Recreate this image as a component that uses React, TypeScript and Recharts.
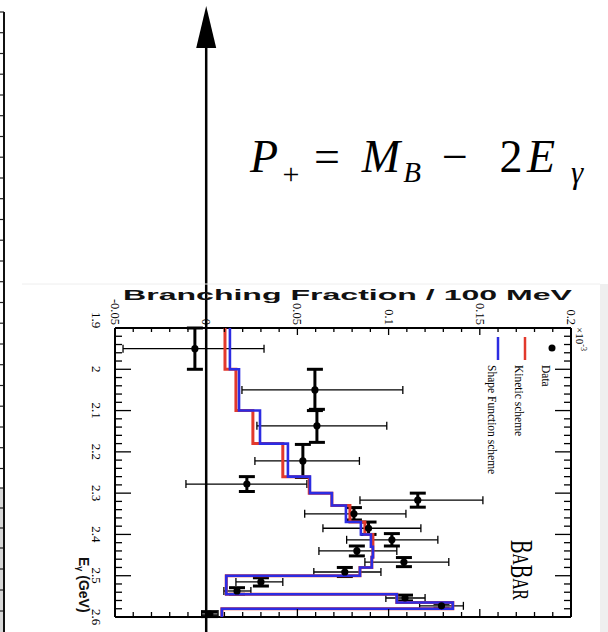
import React from 'react';
import { ComposedChart, Scatter, XAxis, YAxis, ErrorBar, ReferenceLine, Label, Legend } from 'recharts';

// histogram bin edges along E_gamma (GeV)
const binEdges = [1.9, 2.0, 2.1, 2.18, 2.26, 2.3, 2.33, 2.37, 2.4, 2.43, 2.455, 2.48, 2.5, 2.545, 2.565, 2.58, 2.6];
const shapeFunction = [0.013, 0.018, 0.0295, 0.0448, 0.0569, 0.0689, 0.0766, 0.0848, 0.0903, 0.0914, 0.0908, 0.0843, 0.011, 0.1045, 0.1352, 0.0086];
const kinetic = [0.0103, 0.0163, 0.0256, 0.042, 0.0565, 0.0689, 0.0788, 0.087, 0.0914, 0.0914, 0.0908, 0.0843, 0.011, 0.1045, 0.1352, 0.0086];

// measured points (branching fraction x1e-3 per 100 MeV)
const dataE = [1.95, 2.05, 2.137, 2.222, 2.278, 2.317, 2.35, 2.385, 2.413, 2.44, 2.467, 2.491, 2.515, 2.537, 2.554, 2.573, 2.593];
const dataEHalf = [0.05, 0.05, 0.04, 0.04, 0.018, 0.017, 0.015, 0.015, 0.015, 0.012, 0.011, 0.011, 0.01, 0.008, 0.007, 0.006, 0.006];
const dataBF = [-0.0062, 0.0596, 0.0607, 0.053, 0.0223, 0.116, 0.081, 0.089, 0.1018, 0.0826, 0.1084, 0.076, 0.03, 0.0169, 0.109, 0.129, 0.002];
const bfErrLow = [0.0394, 0.04, 0.0329, 0.0263, 0.0334, 0.0317, 0.027, 0.025, 0.0248, 0.0208, 0.0214, 0.017, 0.0137, 0.0072, 0.0105, 0.012, 0.0045];
const bfErrHigh = [0.0379, 0.0482, 0.0383, 0.031, 0.0329, 0.0357, 0.0285, 0.0287, 0.0252, 0.0219, 0.0246, 0.0198, 0.012, 0.0076, 0.011, 0.012, 0.0045];

// axis ticks
const bfTicks = [-0.05, -0.04, -0.03, -0.02, -0.01, 0, 0.01, 0.02, 0.03, 0.04, 0.05, 0.06, 0.07, 0.08, 0.09, 0.1,
  0.11, 0.12, 0.13, 0.14, 0.15, 0.16, 0.17, 0.18, 0.19, 0.2];
const bfMajor = [-0.05, 0, 0.05, 0.1, 0.15, 0.2];
const bfLabels = ['-0.05', '0', '0.05', '0.1', '0.15', '0.2'];
const eTicks = [1.9, 1.92, 1.94, 1.96, 1.98, 2.0, 2.02, 2.04, 2.06, 2.08, 2.1, 2.12, 2.14, 2.16, 2.18, 2.2,
  2.22, 2.24, 2.26, 2.28, 2.3, 2.32, 2.34, 2.36, 2.38, 2.4, 2.42, 2.44, 2.46, 2.48, 2.5, 2.52, 2.54, 2.56, 2.58, 2.6];
const eMajor = [1.9, 2.0, 2.1, 2.2, 2.3, 2.4, 2.5, 2.6];
const eLabels = ['1.9', '2', '2.1', '2.2', '2.3', '2.4', '2.5', '2.6'];

const RED = '#e2392c';
const BLUE = '#2c2ce2';
const SERIF = '"Liberation Serif", "DejaVu Serif", serif';
const SANS = '"Liberation Sans", Arial, sans-serif';

const points = dataE.map((e, i) => ({
  x: dataBF[i],
  y: e,
  xErr: [bfErrLow[i], bfErrHigh[i]],
  yErr: dataEHalf[i],
}));

const steps = (vals: number[]) => {
  const out: { x: number; y: number }[] = [];
  vals.forEach((v, i) => {
    out.push({ x: v, y: binEdges[i] });
    out.push({ x: v, y: binEdges[i + 1] });
  });
  return out;
};
const kineticSteps = steps(kinetic);
const shapeSteps = steps(shapeFunction);

const findMajor = (v: number, majors: number[]) => majors.findIndex((m) => Math.abs(m - v) < 1e-9);

const TopTick = (props: any) => {
  const { x, y, payload } = props;
  const k = findMajor(payload.value, bfMajor);
  const major = k >= 0;
  const ly = y - 3;
  return (
    <g>
      <line x1={x} x2={x} y1={y} y2={y + (major ? 7 : 4)} stroke="#000" strokeWidth={1.3} />
      {major && (
        <text x={x} y={ly} transform={`rotate(90 ${x} ${ly})`} textAnchor="end" dominantBaseline="central"
          fontFamily={SERIF} fontSize={12.5} fill="#000">
          {bfLabels[k]}
        </text>
      )}
      {k === bfMajor.length - 1 && (
        <text x={x + 9} y={y - 1} transform={`rotate(90 ${x + 9} ${y - 1})`} textAnchor="start" dominantBaseline="central"
          fontFamily={SERIF} fontSize={11} fill="#000">
          ×10<tspan fontSize={8} dy={-4}>-3</tspan>
        </text>
      )}
    </g>
  );
};

const BottomTick = (props: any) => {
  const { x, y, payload } = props;
  const major = findMajor(payload.value, bfMajor) >= 0;
  return <line x1={x} x2={x} y1={y} y2={y - (major ? 8 : 5)} stroke="#000" strokeWidth={1.3} />;
};

const LeftTick = (props: any) => {
  const { x, y, payload } = props;
  const k = findMajor(payload.value, eMajor);
  const major = k >= 0;
  const lx = 96;
  const ly = k === 0 ? y - 8 : y;
  return (
    <g>
      <line x1={x} x2={x + (major ? 16 : 7)} y1={y} y2={y} stroke="#000" strokeWidth={1.3} />
      {major && (
        <text x={lx} y={ly} transform={`rotate(90 ${lx} ${ly})`} textAnchor="middle" dominantBaseline="central"
          fontFamily={SERIF} fontSize={13} fill="#000">
          {eLabels[k]}
        </text>
      )}
    </g>
  );
};

const RightTick = (props: any) => {
  const { x, y, payload } = props;
  const major = findMajor(payload.value, eMajor) >= 0;
  return <line x1={x} x2={x - (major ? 16 : 7)} y1={y} y2={y} stroke="#000" strokeWidth={1.3} />;
};

const ArrowShape = (props: any) => {
  const { x1 } = props;
  return (
    <g>
      <line x1={x1} x2={x1} y1={40} y2={632} stroke="#000" strokeWidth={2.5} />
      <polygon points={`${x1},6 ${x1 - 10},48 ${x1 + 10},48`} fill="#000" />
    </g>
  );
};

const renderTitle = () => (
  <text x={123} y={300} fontFamily={SANS} fontWeight="bold" fontSize={15.5} fill="#111"
    textLength={449} lengthAdjust="spacingAndGlyphs">
    Branching Fraction / 100 MeV
  </text>
);

const renderELabel = () => (
  <text x={84} y={557} transform="rotate(90 84 557)" textAnchor="start" dominantBaseline="central"
    fontFamily={SANS} fontWeight="bold" fontSize={14} fill="#111">
    E<tspan fontSize={9} dy={4}>γ</tspan><tspan dy={-4}> (GeV)</tspan>
  </text>
);

const renderBabar = () => (
  <text x={521} y={540} transform="rotate(90 521 540)" textAnchor="start" dominantBaseline="central"
    fontFamily={SERIF} fontSize={31} fill="#000" textLength={60} lengthAdjust="spacingAndGlyphs">
    B<tspan fontSize={24}>A</tspan>B<tspan fontSize={24}>AR</tspan>
  </text>
);

const legendItems = [
  { name: 'Data', color: '#000', kind: 'dot', x: 72 },
  { name: 'Kinetic scheme', color: RED, kind: 'line', x: 45 },
  { name: 'Shape Function scheme', color: BLUE, kind: 'line', x: 18 },
];

const renderLegend = () => (
  <svg width={100} height={165} style={{ display: 'block', overflow: 'visible' }}>
    {legendItems.map((it) => (
      <g key={it.name}>
        {it.kind === 'dot' ? (
          <circle cx={it.x} cy={20} r={3.5} fill={it.color} />
        ) : (
          <line x1={it.x} x2={it.x} y1={9} y2={32} stroke={it.color} strokeWidth={2.5} />
        )}
        <text x={it.x - 6} y={37} transform={`rotate(90 ${it.x - 6} 37)`} textAnchor="start" dominantBaseline="central"
          fontFamily={SERIF} fontSize={11.5} fill="#000">
          {it.name}
        </text>
      </g>
    ))}
  </svg>
);

const columnLines = [12, 32.7, 53.5, 74.2, 95, 115.7, 136.5, 157.2, 178, 198.7, 219.5, 240.2, 261, 281.7, 302.5,
  323.2, 344, 364.7, 385.5, 406.2, 427, 447.7, 468.5, 488, 508, 528, 548, 569, 590, 611];

export default function App() {
  return (
    <div style={{ position: 'absolute', left: 0, top: 0, width: 608, height: 632, background: '#fff' }}>
      <ComposedChart width={608} height={632} margin={{ top: 288, right: 27, bottom: 5, left: 55 }}>
        <XAxis xAxisId="top" type="number" dataKey="x" orientation="top" domain={[-0.05, 0.2]} ticks={bfTicks}
          interval={0} tick={TopTick} tickLine={false} tickSize={0} tickMargin={0} height={40}
          axisLine={{ stroke: '#000', strokeWidth: 2 }} allowDataOverflow>
          <Label content={renderTitle} />
        </XAxis>
        <XAxis xAxisId="bottom" type="number" dataKey="x" orientation="bottom" domain={[-0.05, 0.2]} ticks={bfTicks}
          interval={0} tick={BottomTick} tickLine={false} tickSize={0} tickMargin={0} height={10}
          axisLine={{ stroke: '#000', strokeWidth: 2 }} allowDataOverflow />
        <YAxis yAxisId="left" type="number" dataKey="y" orientation="left" domain={[1.9, 2.6]} reversed ticks={eTicks}
          interval={0} tick={LeftTick} tickLine={false} tickSize={0} tickMargin={0} width={60}
          axisLine={{ stroke: '#000', strokeWidth: 2 }} allowDataOverflow>
          <Label content={renderELabel} />
        </YAxis>
        <YAxis yAxisId="right" type="number" dataKey="y" orientation="right" domain={[1.9, 2.6]} reversed ticks={eTicks}
          interval={0} tick={RightTick} tickLine={false} tickSize={0} tickMargin={0} width={10}
          axisLine={{ stroke: '#000', strokeWidth: 2 }} allowDataOverflow>
          <Label content={renderBabar} />
        </YAxis>
        <Legend content={renderLegend} layout="horizontal" verticalAlign="middle" align="center"
          wrapperStyle={{ position: 'absolute', left: 480, top: 328, width: 100, height: 165 }} />
        <Scatter name="Kinetic scheme" xAxisId="top" yAxisId="left" data={kineticSteps}
          line={{ stroke: RED, strokeWidth: 3 }} lineType="joint" shape={() => <g />} isAnimationActive={false} />
        <Scatter name="Shape Function scheme" xAxisId="top" yAxisId="left" data={shapeSteps}
          line={{ stroke: BLUE, strokeWidth: 2.6 }} lineType="joint" shape={() => <g />} isAnimationActive={false} />
        <Scatter name="Data" xAxisId="top" yAxisId="left" data={points} isAnimationActive={false}
          shape={(p: any) => <circle cx={p.cx} cy={p.cy} r={3.6} fill="#000" />}>
          <ErrorBar dataKey="xErr" direction="x" width={4} stroke="#000" strokeWidth={1.3} />
          <ErrorBar dataKey="yErr" direction="y" width={8} stroke="#000" strokeWidth={3} />
        </Scatter>
        <ReferenceLine xAxisId="top" yAxisId="left" x={0} ifOverflow="visible" shape={ArrowShape} />
      </ComposedChart>
      <svg width={608} height={632} style={{ position: 'absolute', left: 0, top: 0, pointerEvents: 'none' }}>
        <rect x={0} y={488} width={4} height={144} fill="#d9d9d9" />
        {columnLines.map((y) => (
          <line key={y} x1={0} x2={4} y1={y} y2={y} stroke="#222" strokeWidth={1.2} />
        ))}
        <line x1={4} x2={4} y1={12} y2={632} stroke="#111" strokeWidth={2} />
        <line x1={22} x2={600} y1={284} y2={284} stroke="#eeeeee" strokeWidth={1} />
        <rect x={600} y={284} width={8} height={348} fill="#efefef" />
        <g fontFamily={SERIF} fill="#000">
          <text x={264} y={172} fontSize={46} fontStyle="italic" textAnchor="middle">P</text>
          <text x={291} y={184} fontSize={30} textAnchor="middle">+</text>
          <text x={327} y={172} fontSize={46} textAnchor="middle">=</text>
          <text x={381} y={172} fontSize={46} fontStyle="italic" textAnchor="middle">M</text>
          <text x={412} y={182} fontSize={29} fontStyle="italic" textAnchor="middle">B</text>
          <text x={455} y={172} fontSize={46} textAnchor="middle">−</text>
          <text x={511} y={172} fontSize={46} textAnchor="middle">2</text>
          <text x={541} y={172} fontSize={46} fontStyle="italic" textAnchor="middle">E</text>
          <text x={577} y={183} fontSize={31} fontStyle="italic" textAnchor="middle">γ</text>
        </g>
      </svg>
    </div>
  );
}
